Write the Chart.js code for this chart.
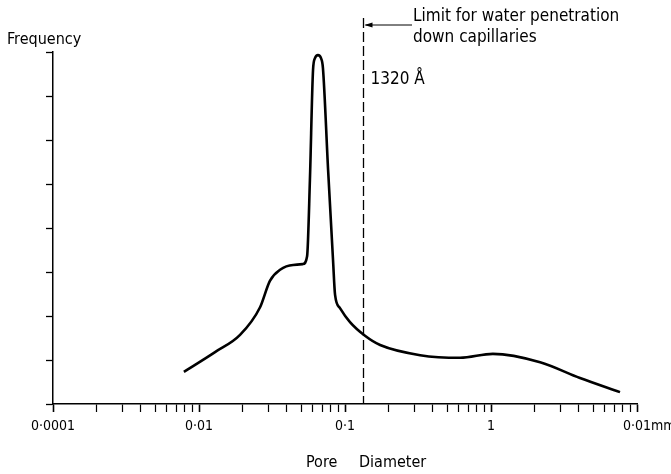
<!DOCTYPE html>
<html>
<head>
<meta charset="utf-8">
<script src="https://cdn.jsdelivr.net/npm/chart.js@4.4.1/dist/chart.umd.min.js"></script>
<style>
    body { margin: 0; background: #fff; }
    #wrap { width: 671px; height: 474px; }
</style>
</head>
<body>
<div id="wrap"><canvas id="poreChart"></canvas></div>
<script>
// Pore diameter (log axis, micrometres) and frequency
const poreDiameter = [0.00788, 0.01288, 0.0191, 0.0262, 0.0306, 0.0359, 0.0441, 0.0515, 0.0550, 0.0575,
    0.0604, 0.0623, 0.0653, 0.0685, 0.0706, 0.0766, 0.0828, 0.0855, 0.0924, 0.1082,
    0.1371, 0.174, 0.327, 0.614, 1.03, 2.17, 4.07, 7.65];
const frequency = [0.73, 1.18, 1.57, 2.20, 2.80, 3.05, 3.16, 3.18, 3.36, 5.09,
    7.59, 7.86, 7.93, 7.86, 7.64, 5.32, 3.27, 2.48, 2.18, 1.86,
    1.55, 1.34, 1.11, 1.05, 1.14, 0.95, 0.59, 0.27];

// Major tick labels as printed on the original axis
const majorTicks = [0.001, 0.01, 0.1, 1, 10];
const majorLabels = ['0·0001', '0·01', '0·1', '1', '0·01'];

// Limit line: 1320 Å
const limitValue = 0.132;
const limitLabel = '1320 Å';

const fontName = '"DejaVu Sans Condensed", "Liberation Sans Narrow", "DejaVu Sans", sans-serif';

document.addEventListener('DOMContentLoaded', function() {
    var points = poreDiameter.map(function(d, i) { return { x: d, y: frequency[i] }; });

    // all 1..9 x 10^n positions for the minor ticks
    var tickValues = [];
    for (var e = -3; e < 1; e++) {
        for (var m = 1; m < 10; m++) {
            tickValues.push(parseFloat((m * Math.pow(10, e)).toPrecision(3)));
        }
    }
    tickValues.push(10);

    var annotations = {
        id: 'annotations',
        afterDraw: function(chart) {
            var ctx = chart.ctx;
            var xs = chart.scales.x;
            var ys = chart.scales.y;
            var lx = Math.round(xs.getPixelForValue(limitValue)) + 0.5;

            ctx.save();
            ctx.strokeStyle = '#000';
            ctx.fillStyle = '#000';

            // dashed limit line
            ctx.lineWidth = 1.3;
            ctx.setLineDash([10, 4]);
            ctx.beginPath();
            ctx.moveTo(lx, 18);
            ctx.lineTo(lx, ys.bottom);
            ctx.stroke();
            ctx.setLineDash([]);

            // arrow to the note
            ctx.lineWidth = 1;
            ctx.beginPath();
            ctx.moveTo(lx + 2, 25);
            ctx.lineTo(412, 25);
            ctx.stroke();
            ctx.beginPath();
            ctx.moveTo(lx + 1, 25);
            ctx.lineTo(lx + 9, 22.5);
            ctx.lineTo(lx + 9, 27.5);
            ctx.closePath();
            ctx.fill();

            ctx.textBaseline = 'middle';
            ctx.textAlign = 'left';
            ctx.font = '17px ' + fontName;
            ctx.fillText('Limit for water penetration', 413, 17);
            ctx.fillText('down capillaries', 413, 38);
            ctx.fillText(limitLabel, lx + 7, 80);

            // y axis title
            ctx.font = '16px ' + fontName;
            ctx.fillText('Frequency', 7, 40);

            // x axis title
            ctx.font = '16px ' + fontName;
            ctx.fillText('Pore', 306, 463);
            ctx.fillText('Diameter', 359, 463);

            // unit after the last tick label
            ctx.font = '14px ' + fontName;
            ctx.fillText('mm', xs.getPixelForValue(10) + 14, 426);
            ctx.restore();
        }
    };

    var ctxLine = document.getElementById('poreChart').getContext('2d');
    var poreChart = new Chart(ctxLine, {
        type: 'line',
        data: {
            datasets: [{
                label: 'Frequency',
                data: points,
                borderColor: '#000',
                borderWidth: 2.6,
                pointRadius: 0,
                fill: false,
                cubicInterpolationMode: 'monotone'
            }]
        },
        options: {
            responsive: true,
            maintainAspectRatio: false,
            animation: false,
            layout: {
                padding: { left: 0, right: 34, top: 52, bottom: 0 }
            },
            plugins: {
                legend: { display: false },
                tooltip: { enabled: false }
            },
            scales: {
                x: {
                    type: 'logarithmic',
                    min: 0.001,
                    max: 10,
                    afterBuildTicks: function(scale) {
                        scale.ticks = tickValues.map(function(v) { return { value: v }; });
                    },
                    afterFit: function(scale) {
                        scale.height = 70;
                    },
                    grid: {
                        drawOnChartArea: false,
                        drawTicks: true,
                        tickLength: 8,
                        tickColor: '#000',
                        tickWidth: function(c) {
                            return majorTicks.indexOf(c.tick.value) >= 0 ? 1.6 : 1.2;
                        }
                    },
                    border: { display: true, color: '#000', width: 1.5 },
                    ticks: {
                        autoSkip: false,
                        maxRotation: 0,
                        minRotation: 0,
                        padding: 6,
                        color: '#000',
                        font: { family: fontName, size: 14 },
                        callback: function(value) {
                            var i = majorTicks.indexOf(value);
                            return i >= 0 ? majorLabels[i] : '';
                        }
                    }
                },
                y: {
                    min: 0,
                    max: 8,
                    afterFit: function(scale) {
                        scale.width = 53;
                    },
                    grid: {
                        drawOnChartArea: false,
                        drawTicks: true,
                        tickLength: 7,
                        tickColor: '#000',
                        tickWidth: 1.3
                    },
                    border: { display: true, color: '#000', width: 1.5 },
                    ticks: {
                        display: false,
                        stepSize: 1
                    }
                }
            }
        },
        plugins: [annotations]
    });
});
</script>
</body>
</html>
